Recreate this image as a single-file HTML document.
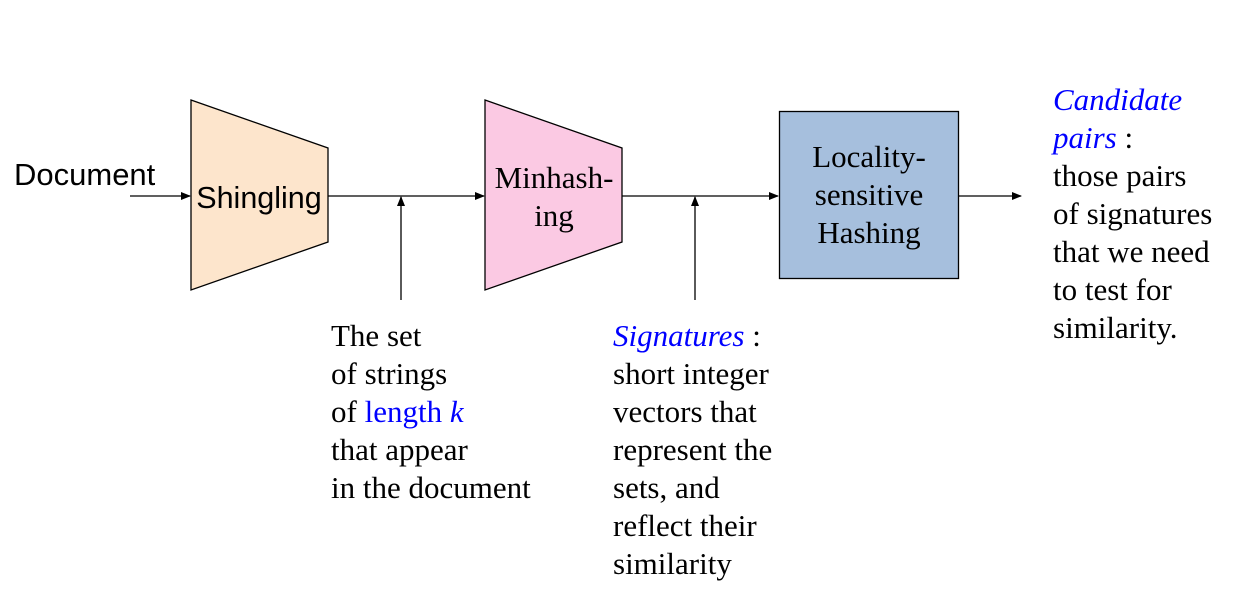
<!DOCTYPE html>
<html><head><meta charset="utf-8"><style>
html,body{margin:0;padding:0;background:#fff;}
svg{display:block;}
.s{font-family:"Liberation Sans",sans-serif;}
.r{font-family:"Liberation Serif",serif;font-size:31px;fill:#000;}
.b{fill:#0000ff;}
</style></head><body>
<svg width="1234" height="590" viewBox="0 0 1234 590" xmlns="http://www.w3.org/2000/svg">
<defs><marker id="a" markerWidth="10" markerHeight="10" refX="9" refY="5" orient="auto" markerUnits="userSpaceOnUse"><path d="M0,1 L10,5 L0,9 z" fill="#000"/></marker></defs>
<text x="14" y="185" class="s" font-size="31">Document</text>
<line x1="130" y1="196" x2="190" y2="196" stroke="#000" stroke-width="1.3" marker-end="url(#a)"/>
<polygon points="191,100 328,148 328,242 191,290" fill="#fde5cc" stroke="#000" stroke-width="1.3"/>
<text x="259" y="208" class="s" font-size="30.5" text-anchor="middle">Shingling</text>
<line x1="328" y1="196" x2="484" y2="196" stroke="#000" stroke-width="1.3" marker-end="url(#a)"/>
<line x1="401" y1="300" x2="401" y2="197" stroke="#000" stroke-width="1.3" marker-end="url(#a)"/>
<polygon points="485,100 622,148 622,242 485,290" fill="#fbc9e3" stroke="#000" stroke-width="1.3"/>
<text x="554" y="188" class="r" font-size="30.5" text-anchor="middle">Minhash-</text>
<text x="554" y="226" class="r" font-size="30.5" text-anchor="middle">ing</text>
<line x1="622" y1="196" x2="778" y2="196" stroke="#000" stroke-width="1.3" marker-end="url(#a)"/>
<line x1="695" y1="300" x2="695" y2="197" stroke="#000" stroke-width="1.3" marker-end="url(#a)"/>
<rect x="779.5" y="111.5" width="179" height="167" fill="#a6bfdd" stroke="#000" stroke-width="1.3"/>
<text x="869" y="167" class="r" font-size="30.5" text-anchor="middle">Locality-</text>
<text x="869" y="205" class="r" font-size="30.5" text-anchor="middle">sensitive</text>
<text x="869" y="243" class="r" font-size="30.5" text-anchor="middle">Hashing</text>
<line x1="958" y1="196" x2="1021" y2="196" stroke="#000" stroke-width="1.3" marker-end="url(#a)"/>
<text class="r" x="1053" y="110"><tspan class="b" font-style="italic">Candidate</tspan></text>
<text class="r" x="1053" y="148"><tspan class="b" font-style="italic">pairs</tspan> :</text>
<text class="r" x="1053" y="186">those pairs</text>
<text class="r" x="1053" y="224">of signatures</text>
<text class="r" x="1053" y="262">that we need</text>
<text class="r" x="1053" y="300">to test for</text>
<text class="r" x="1053" y="338">similarity.</text>
<text class="r" x="331" y="346">The set</text>
<text class="r" x="331" y="384">of strings</text>
<text class="r" x="331" y="422">of <tspan class="b">length <tspan font-style="italic">k</tspan></tspan></text>
<text class="r" x="331" y="460">that appear</text>
<text class="r" x="331" y="498">in the document</text>
<text class="r" x="613" y="346"><tspan class="b" font-style="italic">Signatures</tspan> :</text>
<text class="r" x="613" y="384">short integer</text>
<text class="r" x="613" y="422">vectors that</text>
<text class="r" x="613" y="460">represent the</text>
<text class="r" x="613" y="498">sets, and</text>
<text class="r" x="613" y="536">reflect their</text>
<text class="r" x="613" y="574">similarity</text>
</svg>
</body></html>
